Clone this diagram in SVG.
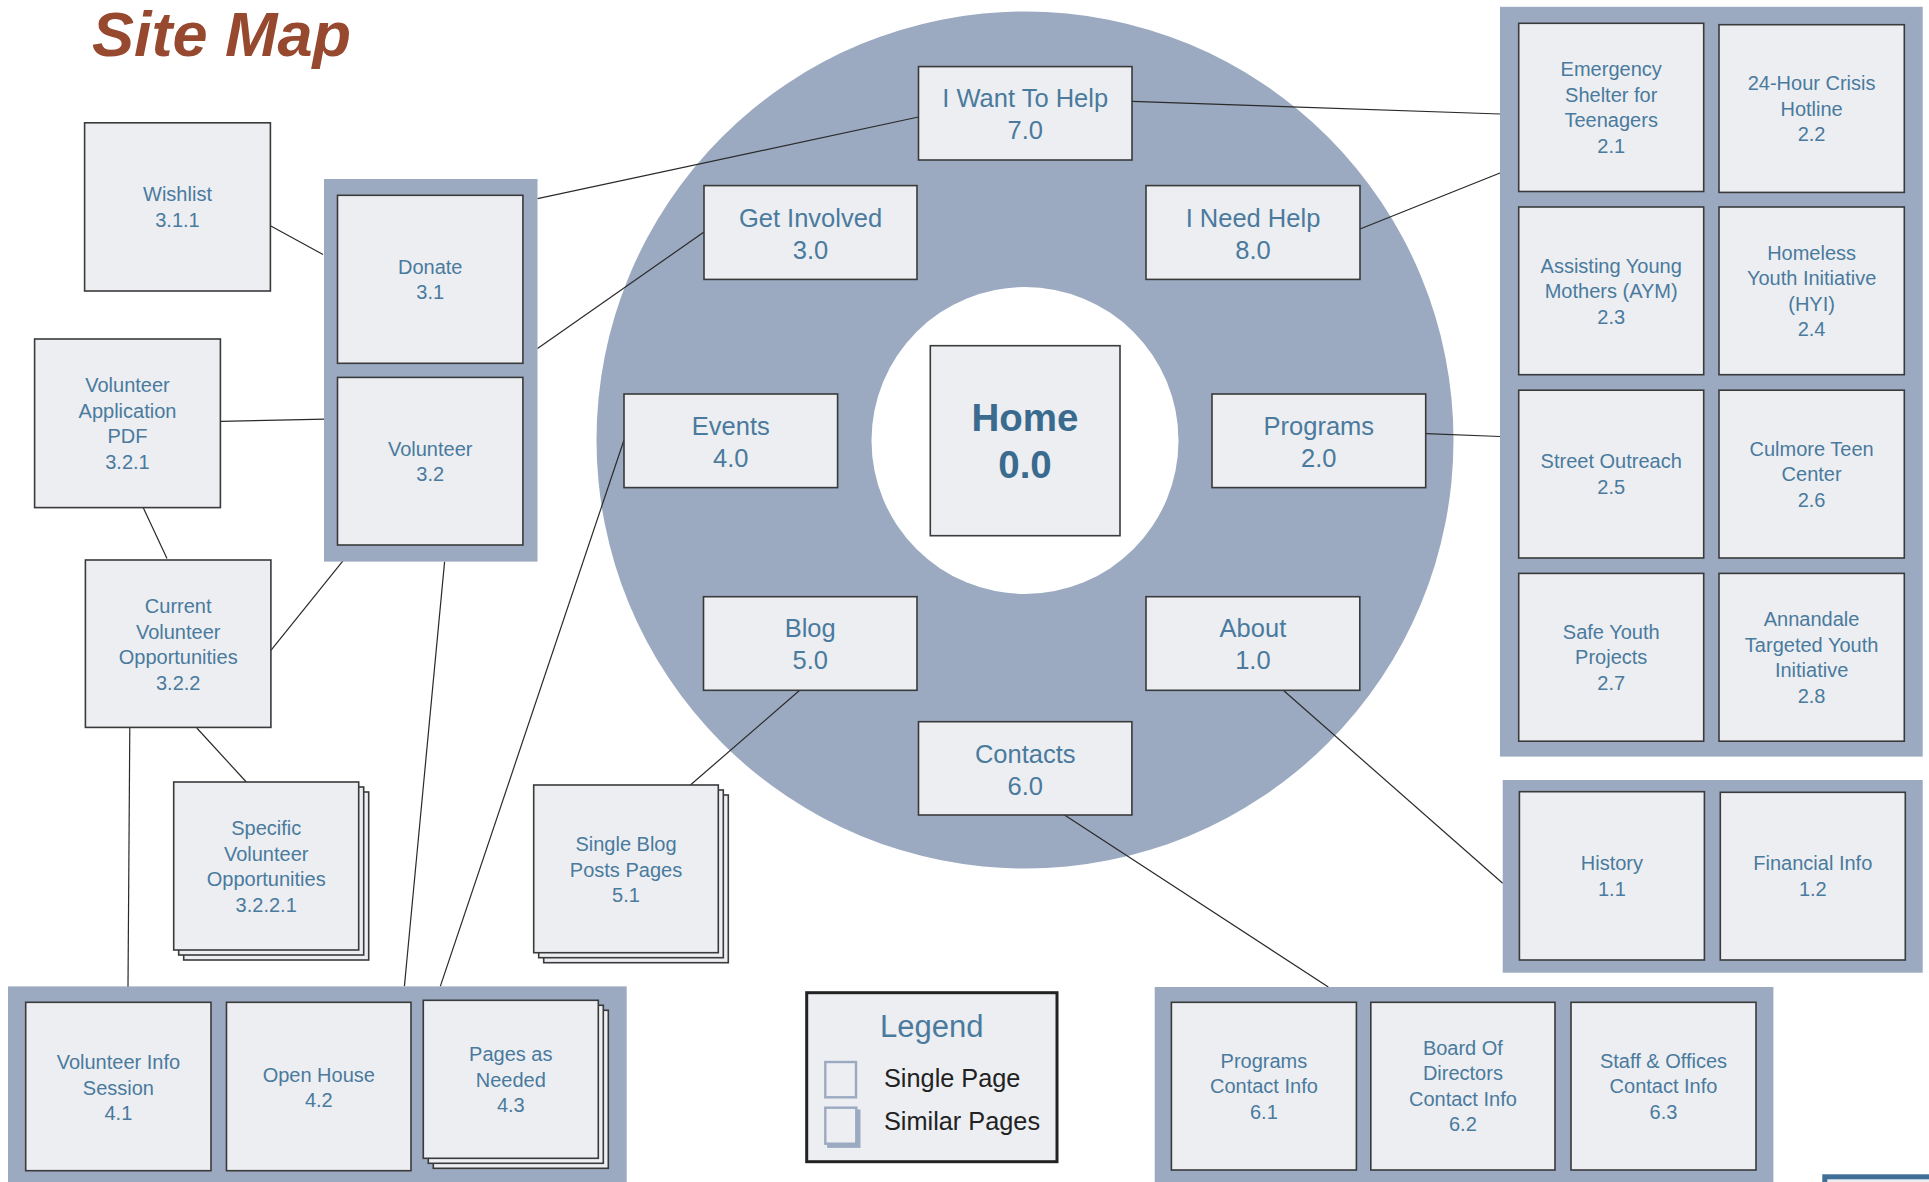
<svg xmlns="http://www.w3.org/2000/svg" width="1929" height="1182" viewBox="0 0 1929 1182">
<style>
.bg{fill:#9baac1}
.bx{fill:#eceef2;stroke:#3a3a3a;stroke-width:1.6}
.t{font-family:"Liberation Sans",Arial,Helvetica,sans-serif;fill:#4a7a9d;text-anchor:middle}
.s{font-size:20px}
.m{font-size:25.5px}
.h{font-size:38.5px;font-weight:bold;fill:#3a6b8f}
.c{stroke:#2a2a2a;stroke-width:1.2;fill:none}
</style>
<rect x="0" y="0" width="1929" height="1182" fill="#ffffff"/>
<text x="92" y="56" font-family="'Liberation Sans',Arial,sans-serif" font-size="63" font-weight="bold" font-style="italic" fill="#96492f">Site Map</text>

<circle cx="1025" cy="440" r="428.5" class="bg"/>
<circle cx="1025" cy="440.5" r="153.5" fill="#ffffff"/>

<g id="connectors">
<line class="c" x1="270.4" y1="225.7" x2="323" y2="254.5"/>
<line class="c" x1="918.5" y1="117" x2="537.5" y2="198.7"/>
<line class="c" x1="704" y1="232" x2="537.5" y2="348.5"/>
<line class="c" x1="220.4" y1="421.4" x2="337.5" y2="418.8"/>
<line class="c" x1="143.2" y1="507.6" x2="167" y2="558.6"/>
<line class="c" x1="355.4" y1="545.3" x2="270.9" y2="650.4"/>
<line class="c" x1="444.6" y1="561.6" x2="404.4" y2="986.4"/>
<line class="c" x1="624" y1="440" x2="440.3" y2="986.4"/>
<line class="c" x1="129.8" y1="727.4" x2="127.9" y2="1002.3"/>
<line class="c" x1="196.8" y1="728" x2="246.3" y2="782"/>
<line class="c" x1="799.7" y1="690.3" x2="690.4" y2="785"/>
<line class="c" x1="1064.5" y1="815" x2="1328.3" y2="987"/>
<line class="c" x1="1283" y1="690" x2="1502.7" y2="883.3"/>
<line class="c" x1="1132" y1="101.4" x2="1500" y2="114"/>
<line class="c" x1="1360" y1="229" x2="1500" y2="173"/>
<line class="c" x1="1426" y1="433.6" x2="1500" y2="436.5"/>
</g>

<g id="home">
<rect class="bx" x="930.3" y="345.7" width="189.7" height="190"/>
<text class="t h" x="1025" y="431">Home</text>
<text class="t h" x="1025" y="478.3">0.0</text>
</g>

<g id="n7">
<rect class="bx" x="918.5" y="66.6" width="213.5" height="93.4"/>
<text class="t m" x="1025.2" y="107">I Want To Help</text>
<text class="t m" x="1025.2" y="139">7.0</text>
</g>
<g id="n3">
<rect class="bx" x="704" y="185.6" width="213" height="93.8"/>
<text class="t m" x="810.5" y="226.5">Get Involved</text>
<text class="t m" x="810.5" y="259">3.0</text>
</g>
<g id="n8">
<rect class="bx" x="1146" y="185.6" width="214" height="93.8"/>
<text class="t m" x="1253" y="226.5">I Need Help</text>
<text class="t m" x="1253" y="259">8.0</text>
</g>
<g id="n4">
<rect class="bx" x="624" y="394" width="213.6" height="93.6"/>
<text class="t m" x="730.8" y="435">Events</text>
<text class="t m" x="730.8" y="467">4.0</text>
</g>
<g id="n2">
<rect class="bx" x="1212" y="394" width="213.7" height="93.6"/>
<text class="t m" x="1318.8" y="435">Programs</text>
<text class="t m" x="1318.8" y="467">2.0</text>
</g>
<g id="n5">
<rect class="bx" x="703.5" y="596.7" width="213.5" height="93.6"/>
<text class="t m" x="810.2" y="637">Blog</text>
<text class="t m" x="810.2" y="669">5.0</text>
</g>
<g id="n1">
<rect class="bx" x="1146" y="596.7" width="213.8" height="93.6"/>
<text class="t m" x="1252.9" y="637">About</text>
<text class="t m" x="1252.9" y="669">1.0</text>
</g>
<g id="n6">
<rect class="bx" x="918.5" y="721.7" width="213.4" height="93.3"/>
<text class="t m" x="1025.2" y="762.5">Contacts</text>
<text class="t m" x="1025.2" y="794.5">6.0</text>
</g>

<g id="g3">
<rect class="bg" x="324" y="179" width="213.5" height="382.6"/>
<g id="n3-1">
<rect class="bx" x="337.5" y="195.3" width="185.4" height="168"/>
<text class="t s" x="430.2" y="273.6">Donate</text>
<text class="t s" x="430.2" y="299.1">3.1</text>
</g>
<g id="n3-2">
<rect class="bx" x="337.5" y="377.4" width="185.4" height="167.6"/>
<text class="t s" x="430.2" y="455.5">Volunteer</text>
<text class="t s" x="430.2" y="481">3.2</text>
</g>
</g>

<g id="n3-1-1">
<rect class="bx" x="84.6" y="122.8" width="185.8" height="168.2"/>
<text class="t s" x="177.5" y="201.4">Wishlist</text>
<text class="t s" x="177.5" y="226.9">3.1.1</text>
</g>
<g id="n3-2-1">
<rect class="bx" x="34.6" y="339" width="185.8" height="168.6"/>
<text class="t s" x="127.5" y="392">Volunteer</text>
<text class="t s" x="127.5" y="417.5">Application</text>
<text class="t s" x="127.5" y="443">PDF</text>
<text class="t s" x="127.5" y="468.5">3.2.1</text>
</g>
<g id="n3-2-2">
<rect class="bx" x="85.4" y="560" width="185.5" height="167.4"/>
<text class="t s" x="178.2" y="613">Current</text>
<text class="t s" x="178.2" y="638.5">Volunteer</text>
<text class="t s" x="178.2" y="664">Opportunities</text>
<text class="t s" x="178.2" y="689.5">3.2.2</text>
</g>
<g id="n3-2-2-1">
<rect class="bx" x="183.7" y="792" width="185" height="168"/>
<rect class="bx" x="178.7" y="787" width="185" height="168"/>
<rect class="bx" x="173.7" y="782" width="185" height="168"/>
<text class="t s" x="266.2" y="835">Specific</text>
<text class="t s" x="266.2" y="860.5">Volunteer</text>
<text class="t s" x="266.2" y="886">Opportunities</text>
<text class="t s" x="266.2" y="911.5">3.2.2.1</text>
</g>
<g id="n5-1">
<rect class="bx" x="543.7" y="795" width="184.6" height="167.7"/>
<rect class="bx" x="538.7" y="790" width="184.6" height="167.7"/>
<rect class="bx" x="533.7" y="785" width="184.6" height="167.7"/>
<text class="t s" x="626" y="851">Single Blog</text>
<text class="t s" x="626" y="876.5">Posts Pages</text>
<text class="t s" x="626" y="902">5.1</text>
</g>

<g id="g4">
<rect class="bg" x="8" y="986.4" width="618.7" height="205"/>
<g id="n4-1">
<rect class="bx" x="25.7" y="1002.3" width="185.3" height="168.4"/>
<text class="t s" x="118.4" y="1069">Volunteer Info</text>
<text class="t s" x="118.4" y="1094.5">Session</text>
<text class="t s" x="118.4" y="1120">4.1</text>
</g>
<g id="n4-2">
<rect class="bx" x="226.5" y="1002.3" width="184.5" height="168.4"/>
<text class="t s" x="318.8" y="1081.5">Open House</text>
<text class="t s" x="318.8" y="1107">4.2</text>
</g>
<g id="n4-3">
<rect class="bx" x="433.3" y="1010.3" width="175" height="158"/>
<rect class="bx" x="428.3" y="1005.3" width="175" height="158"/>
<rect class="bx" x="423.3" y="1000.3" width="175" height="158"/>
<text class="t s" x="510.8" y="1061">Pages as</text>
<text class="t s" x="510.8" y="1086.5">Needed</text>
<text class="t s" x="510.8" y="1112">4.3</text>
</g>
</g>

<g id="g2">
<rect class="bg" x="1500" y="6.8" width="422.7" height="749.8"/>
<g id="n2-1">
<rect class="bx" x="1518.7" y="23.3" width="185" height="168.2"/>
<text class="t s" x="1611.2" y="76">Emergency</text>
<text class="t s" x="1611.2" y="101.5">Shelter for</text>
<text class="t s" x="1611.2" y="127">Teenagers</text>
<text class="t s" x="1611.2" y="152.5">2.1</text>
</g>
<g id="n2-2">
<rect class="bx" x="1719" y="24.7" width="185.3" height="167.7"/>
<text class="t s" x="1811.6" y="90">24-Hour Crisis</text>
<text class="t s" x="1811.6" y="115.5">Hotline</text>
<text class="t s" x="1811.6" y="141">2.2</text>
</g>
<g id="n2-3">
<rect class="bx" x="1518.7" y="207" width="185" height="167.7"/>
<text class="t s" x="1611.2" y="272.5">Assisting Young</text>
<text class="t s" x="1611.2" y="298">Mothers (AYM)</text>
<text class="t s" x="1611.2" y="323.5">2.3</text>
</g>
<g id="n2-4">
<rect class="bx" x="1719" y="207" width="185.3" height="167.7"/>
<text class="t s" x="1811.6" y="259.6">Homeless</text>
<text class="t s" x="1811.6" y="285.1">Youth Initiative</text>
<text class="t s" x="1811.6" y="310.6">(HYI)</text>
<text class="t s" x="1811.6" y="336.1">2.4</text>
</g>
<g id="n2-5">
<rect class="bx" x="1518.7" y="390.2" width="185" height="167.8"/>
<text class="t s" x="1611.2" y="468.4">Street Outreach</text>
<text class="t s" x="1611.2" y="493.9">2.5</text>
</g>
<g id="n2-6">
<rect class="bx" x="1719" y="390.2" width="185.3" height="167.8"/>
<text class="t s" x="1811.6" y="455.6">Culmore Teen</text>
<text class="t s" x="1811.6" y="481.1">Center</text>
<text class="t s" x="1811.6" y="506.6">2.6</text>
</g>
<g id="n2-7">
<rect class="bx" x="1518.7" y="573.4" width="185" height="167.8"/>
<text class="t s" x="1611.2" y="638.8">Safe Youth</text>
<text class="t s" x="1611.2" y="664.3">Projects</text>
<text class="t s" x="1611.2" y="689.8">2.7</text>
</g>
<g id="n2-8">
<rect class="bx" x="1719" y="573.4" width="185.3" height="167.8"/>
<text class="t s" x="1811.6" y="626">Annandale</text>
<text class="t s" x="1811.6" y="651.5">Targeted Youth</text>
<text class="t s" x="1811.6" y="677">Initiative</text>
<text class="t s" x="1811.6" y="702.5">2.8</text>
</g>
</g>

<g id="g1">
<rect class="bg" x="1502.7" y="780" width="420" height="192.7"/>
<g id="n1-1">
<rect class="bx" x="1519.4" y="791.7" width="185" height="168.3"/>
<text class="t s" x="1611.9" y="870">History</text>
<text class="t s" x="1611.9" y="895.5">1.1</text>
</g>
<g id="n1-2">
<rect class="bx" x="1720.3" y="792.3" width="185" height="167.7"/>
<text class="t s" x="1812.8" y="870">Financial Info</text>
<text class="t s" x="1812.8" y="895.5">1.2</text>
</g>
</g>

<g id="g6">
<rect class="bg" x="1154.7" y="987" width="618.7" height="205"/>
<g id="n6-1">
<rect class="bx" x="1171.4" y="1002.3" width="185" height="167.7"/>
<text class="t s" x="1263.9" y="1067.7">Programs</text>
<text class="t s" x="1263.9" y="1093.2">Contact Info</text>
<text class="t s" x="1263.9" y="1118.7">6.1</text>
</g>
<g id="n6-2">
<rect class="bx" x="1370.8" y="1002.3" width="184.2" height="167.7"/>
<text class="t s" x="1462.9" y="1054.9">Board Of</text>
<text class="t s" x="1462.9" y="1080.4">Directors</text>
<text class="t s" x="1462.9" y="1105.9">Contact Info</text>
<text class="t s" x="1462.9" y="1131.4">6.2</text>
</g>
<g id="n6-3">
<rect class="bx" x="1571" y="1002.3" width="185" height="167.7"/>
<text class="t s" x="1663.5" y="1067.7">Staff &amp; Offices</text>
<text class="t s" x="1663.5" y="1093.2">Contact Info</text>
<text class="t s" x="1663.5" y="1118.7">6.3</text>
</g>
</g>

<g id="legend">
<rect x="806.7" y="992.7" width="250.3" height="169" fill="#eceef2" stroke="#222222" stroke-width="3"/>
<text class="t" x="931.8" y="1037.3" font-size="31" fill="#3f6f96">Legend</text>
<rect x="825.3" y="1062" width="30.7" height="35.3" fill="#eceef2" stroke="#9baac1" stroke-width="2.4"/>
<rect x="828.3" y="1110.7" width="31" height="36" fill="#9baac1" stroke="#9baac1" stroke-width="2.4"/>
<rect x="825.3" y="1107.7" width="31" height="36" fill="#eceef2" stroke="#9baac1" stroke-width="2.4"/>
<text x="884" y="1086.7" font-family="'Liberation Sans',Arial,sans-serif" font-size="25.3" fill="#222222">Single Page</text>
<text x="884" y="1130" font-family="'Liberation Sans',Arial,sans-serif" font-size="25.3" fill="#222222">Similar Pages</text>
</g>

<g id="corner">
<rect x="1824.8" y="1176.8" width="200" height="100" fill="#eceef2" stroke="#3f6f96" stroke-width="5"/>
</g>
</svg>
